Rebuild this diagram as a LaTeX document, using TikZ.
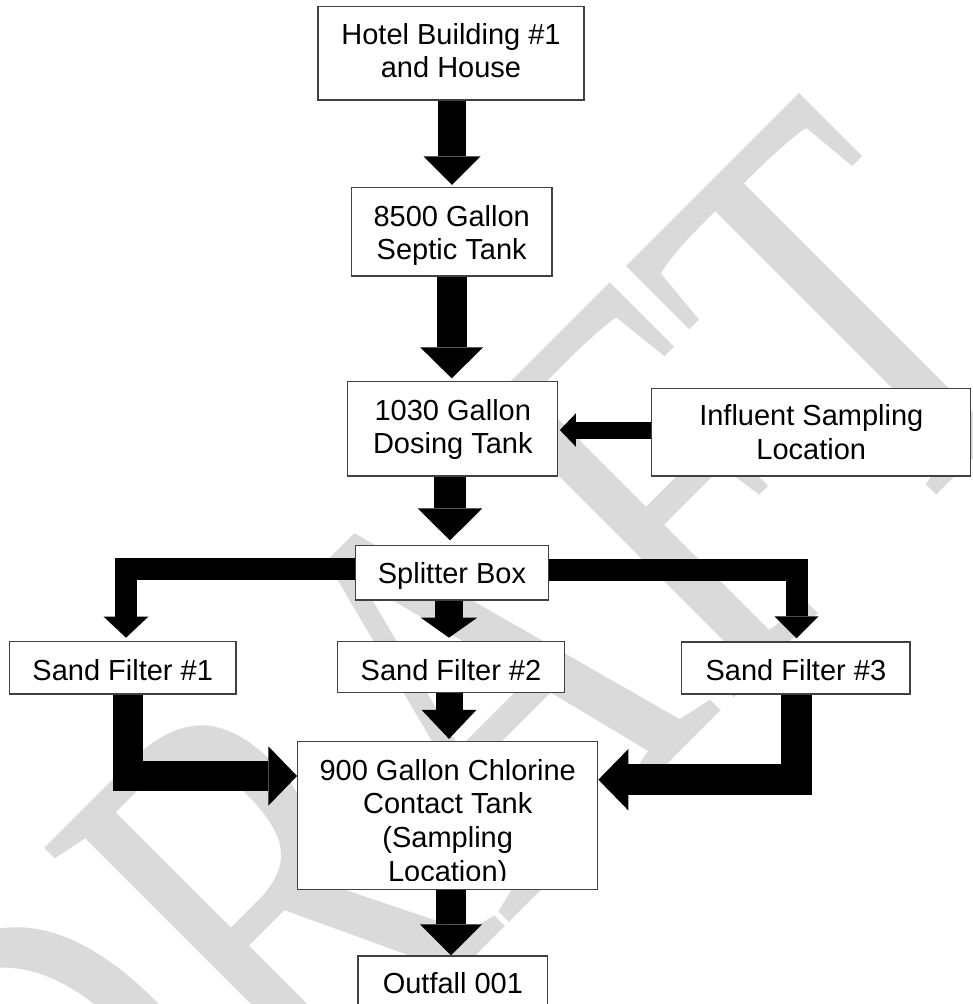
\documentclass[tikz,border=0pt]{standalone}
\usepackage{fontspec}
\setmainfont{Liberation Sans}
\newfontfamily\wmfont{Liberation Serif}
\usetikzlibrary{arrows.meta,calc}
\definecolor{wmgray}{RGB}{218,218,218}
\definecolor{boxline}{RGB}{64,64,64}
\begin{document}
\begin{tikzpicture}[x=1pt,y=-1pt,
  box/.style={draw=boxline, line width=1.3pt, fill=white, inner sep=0pt},
  lbl/.style={font=\fontsize{29}{33}\selectfont, inner sep=0pt, anchor=base},
  flow/.style args={#1/#2/#3}{draw=black, line width=#1, line join=miter,
    -{Triangle[width=#2, length=#3, line width=0pt]}},
]
\useasboundingbox (0,0) rectangle (972,1004);
\fill[white] (0,0) rectangle (972,1004);
% watermark
\begin{scope}
\clip (0,0) rectangle (972,1004);
\node[text=wmgray, font=\wmfont\fontsize{425}{425}\selectfont, rotate=45, yscale=1.37, inner sep=0pt] (wm) at (446,715) {DRAFT};
\end{scope}
% boxes
\node[box, minimum width=266pt, minimum height=93.6pt] (hotel) at (451,53.2) {};
\node[box, minimum width=200.3pt, minimum height=88.4pt] (septic) at (451.7,231.8) {};
\node[box, minimum width=210pt, minimum height=94.3pt] (dosing) at (452.8,428.8) {};
\node[box, minimum width=319pt, minimum height=87.7pt] (influent) at (811.3,432.2) {};
\node[box, minimum width=192.6pt, minimum height=54.3pt] (splitter) at (452,572.9) {};
\node[box, minimum width=226.7pt, minimum height=52.3pt] (sf1) at (122.7,667.9) {};
\node[box, minimum width=226.6pt, minimum height=51pt] (sf2) at (451,667) {};
\node[box, minimum width=228.3pt, minimum height=52pt] (sf3) at (795.9,667.9) {};
\node[box, minimum width=300pt, minimum height=148pt] (chlor) at (447.7,815.6) {};
\node[box, minimum width=189.6pt, minimum height=58pt] (outfall) at (452.9,985) {};
% texts
\node[lbl] (hotelA) at (451,44.5) {Hotel Building \#1};
\node[lbl] (hotelB) at (451,77) {and House};
\node[lbl] (septicA) at (451.7,226.4) {8500 Gallon};
\node[lbl] (septicB) at (451.7,259.4) {Septic Tank};
\node[lbl] (dosingA) at (452.8,420.2) {1030 Gallon};
\node[lbl] (dosingB) at (452.8,453) {Dosing Tank};
\node[lbl] (inflA) at (811.3,425.5) {Influent Sampling};
\node[lbl] (inflB) at (811.3,459) {Location};
\node[lbl] (splitT) at (452,583.3) {Splitter Box};
\node[lbl] (sf1T) at (122.7,680) {Sand Filter \#1};
\node[lbl] (sf2T) at (451,680) {Sand Filter \#2};
\node[lbl] (sf3T) at (795.9,680) {Sand Filter \#3};
\begin{scope}
\clip (chlor.north west) rectangle ($(chlor.south east)+(0,-10)$);
\node[lbl] (chlorA) at (447.7,780) {900 Gallon Chlorine};
\node[lbl] (chlorB) at (447.7,813.5) {Contact Tank};
\node[lbl] (chlorC) at (447.7,847) {(Sampling};
\node[lbl] (chlorD) at (447.7,881.5) {Location)};
\end{scope}
\node[lbl] (outT) at (452.9,993.3) {Outfall 001};
% connectors
\draw[flow=28pt/57pt/28.6pt] ($(hotel.south)+(1,0)$) -- ($(hotel.south |- septic.north)+(1,-2)$);
\draw[flow=30pt/63pt/31pt] (septic.south) -- ($(septic.south |- dosing.north)+(0,-2.7)$);
\draw[flow=32pt/64.6pt/32pt] ($(dosing.south)+(-2.8,0)$) -- ($(dosing.south |- splitter.north)+(-2.8,-4.7)$);
\draw[flow=17pt/33.4pt/16pt] ($(influent.west)+(0,-2.2)$) -- ($(influent.west -| dosing.east)+(1.4,-2.2)$);
\draw[flow=22pt/44.7pt/21pt] ($(splitter.west)+(0,-3.6)$) -| ($(sf1.north)+(3.3,-3.4)$);
\draw[flow=22pt/44pt/22pt] ($(splitter.east)+(0,-3.3)$) -| ($(sf3.north)+(0.6,-2.9)$);
\draw[flow=28pt/56.6pt/20pt] ($(splitter.south)+(-3,0)$) -- ($(splitter.south |- sf2.north)+(-3,-3.2)$);
\draw[flow=30.5pt/59.3pt/28.7pt] ($(sf1.south)+(5.3,0)$) |- ($(chlor.west)+(0,-39.6)$);
\draw[flow=27pt/55pt/29pt] ($(sf2.south)+(-2,0)$) -- ($(sf2.south |- chlor.north)+(-2,-2.1)$);
\draw[flow=30.5pt/61.4pt/30pt] ($(sf3.south)+(0.4,0)$) |- ($(chlor.east)+(0,-35.9)$);
\draw[flow=30pt/62pt/31pt] ($(chlor.south)+(3.3,0)$) -- ($(chlor.south |- outfall.north)+(3.3,0)$);
\end{tikzpicture}
\end{document}
